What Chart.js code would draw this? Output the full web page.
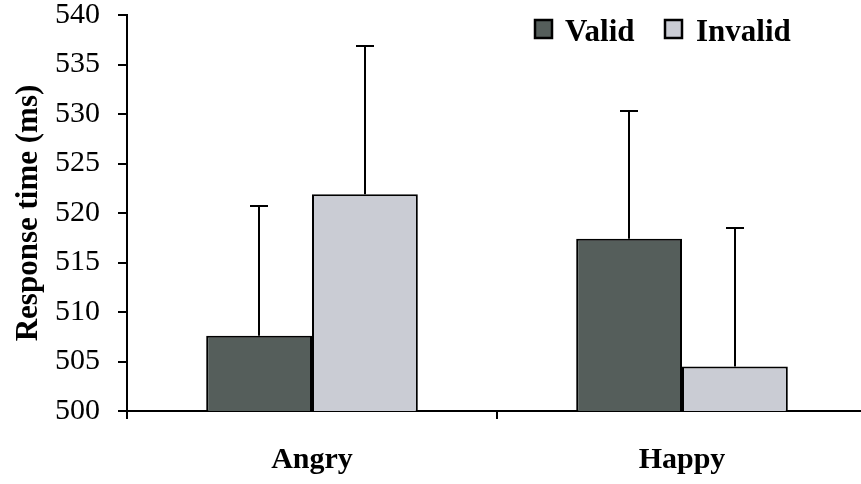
<!DOCTYPE html>
<html>
<head>
<meta charset="utf-8">
<script src="https://cdn.jsdelivr.net/npm/chart.js@4/dist/chart.umd.min.js"></script>
<style>
  html, body { margin: 0; padding: 0; background: #fff; overflow: hidden; width: 861px; height: 484px; }
  #wrap { position: absolute; left: 0; top: 0; width: 867px; height: 484px; }
</style>
</head>
<body>
<div id="wrap"><canvas id="c" width="867" height="484"></canvas></div>
<script>
const categories = ['Angry', 'Happy'];
const seriesNames = ['Valid', 'Invalid'];
const validMeans = [507.6, 517.4];
const invalidMeans = [521.9, 504.5];
const validErrTop = [520.7, 530.3];
const invalidErrTop = [536.9, 518.5];
const yMin = 500, yMax = 540, yStep = 5;
const yTitle = 'Response time (ms)';

const FONT = 'Liberation Serif';
const DARK = '#555e5b';
const LIGHT = '#caccd4';

const errTops = [validErrTop, invalidErrTop];

const errorBarPlugin = {
  id: 'errorBars',
  afterDatasetsDraw(chart) {
    const ctx = chart.ctx;
    const ys = chart.scales.y;
    ctx.save();
    ctx.strokeStyle = '#000';
    ctx.lineWidth = 2;
    chart.data.datasets.forEach((ds, i) => {
      const meta = chart.getDatasetMeta(i);
      meta.data.forEach((el, j) => {
        const x = Math.round(el.x);
        const yb = el.y;
        const yt = Math.round(ys.getPixelForValue(errTops[i][j]));
        ctx.beginPath();
        ctx.moveTo(x, yb);
        ctx.lineTo(x, yt);
        ctx.moveTo(x - 9, yt);
        ctx.lineTo(x + 9, yt);
        ctx.stroke();
      });
    });
    ctx.restore();
  }
};

const legendPlugin = {
  id: 'customLegend',
  afterDraw(chart) {
    const ctx = chart.ctx;
    ctx.save();
    ctx.font = 'bold 31px "' + FONT + '"';
    ctx.textBaseline = 'alphabetic';
    ctx.fillStyle = '#000';
    const items = [
      { label: seriesNames[0], color: DARK, bx: 535, tx: 565 },
      { label: seriesNames[1], color: LIGHT, bx: 665, tx: 696 }
    ];
    items.forEach(it => {
      ctx.fillStyle = it.color;
      ctx.fillRect(it.bx, 20, 17, 18);
      ctx.strokeStyle = '#000';
      ctx.lineWidth = 2.5;
      ctx.strokeRect(it.bx, 20, 17, 18);
      ctx.fillStyle = '#000';
      ctx.fillText(it.label, it.tx, 41);
    });
    ctx.restore();
  }
};

new Chart(document.getElementById('c'), {
  type: 'bar',
  data: {
    labels: categories,
    datasets: [
      { label: seriesNames[0], data: validMeans, backgroundColor: DARK, borderColor: '#000', borderWidth: 2, borderSkipped: false, categoryPercentage: 0.572, barPercentage: 1.0 },
      { label: seriesNames[1], data: invalidMeans, backgroundColor: LIGHT, borderColor: '#000', borderWidth: 2, borderSkipped: false, categoryPercentage: 0.572, barPercentage: 1.0 }
    ]
  },
  options: {
    responsive: false,
    animation: false,
    devicePixelRatio: 1,
    layout: { padding: { top: 15, right: 0, bottom: 0, left: 0 } },
    plugins: { legend: { display: false }, tooltip: { enabled: false } },
    scales: {
      x: {
        afterFit: s => { s.height = 73; s.paddingLeft = 0; s.paddingRight = 0; },
        grid: { display: true, drawOnChartArea: false, drawTicks: true, tickLength: 8, color: '#000', lineWidth: 2, offset: true },
        border: { display: true, color: '#000', width: 2 },
        ticks: { color: '#000', font: { family: FONT, size: 30, weight: 'bold' }, padding: 23 }
      },
      y: {
        min: yMin, max: yMax,
        afterFit: s => { s.width = 127; s.paddingTop = 15; s.paddingBottom = 0; },
        grid: { display: true, drawOnChartArea: false, drawTicks: true, tickLength: 9, color: '#000', lineWidth: 2 },
        border: { display: true, color: '#000', width: 2 },
        ticks: { stepSize: yStep, color: '#000', font: { family: FONT, size: 30 }, padding: 18 },
        title: { display: true, text: yTitle, color: '#000', font: { family: FONT, size: 31, weight: 'bold' }, padding: { top: 10, bottom: 0 } }
      }
    }
  },
  plugins: [errorBarPlugin, legendPlugin]
});
</script>
</body>
</html>
